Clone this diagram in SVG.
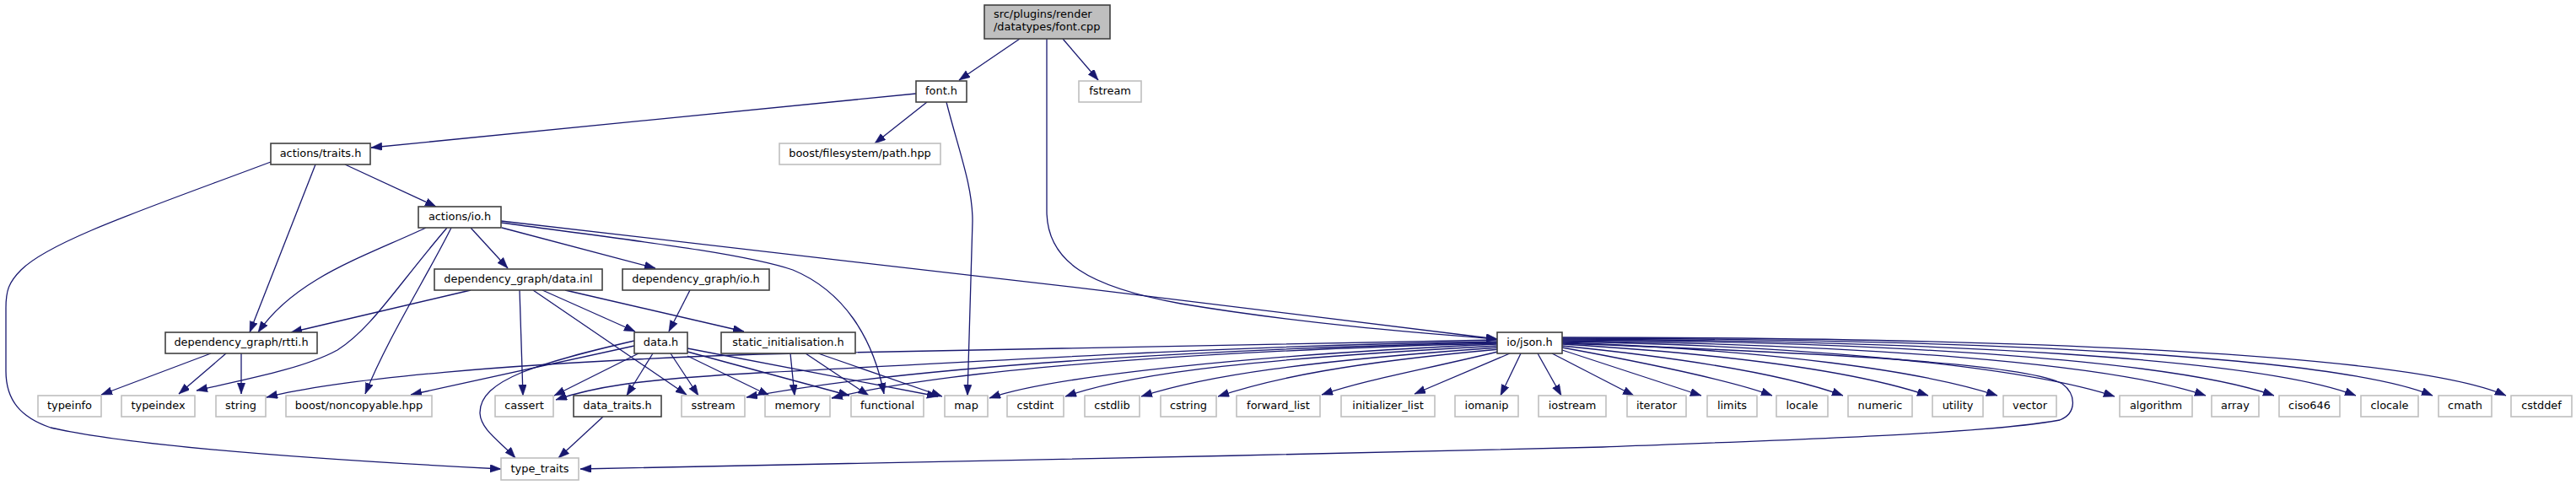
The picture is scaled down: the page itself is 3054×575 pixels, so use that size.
<svg xmlns="http://www.w3.org/2000/svg" width="3054" height="575" viewBox="0 0 3054 575">
<style>
text{font-family:"DejaVu Sans","Liberation Sans",sans-serif;font-size:12.9px;fill:#000;text-anchor:middle}
.d rect{fill:#fff;stroke:#404040;stroke-width:1.6}
.l rect{fill:#fff;stroke:#bfbfbf;stroke-width:1.6}
.r rect{fill:#bfbfbf;stroke:#404040;stroke-width:1.6}
#edges path{fill:none;stroke:#191970;stroke-width:1.3;marker-end:url(#ah)}
</style>
<defs>
<marker id="ah" markerUnits="userSpaceOnUse" markerWidth="14" markerHeight="10" refX="13" refY="4.7" orient="auto">
<path d="M0,0 L13,4.7 L0,9.4 z" fill="#191970" stroke="#191970" stroke-width="0.5"/>
</marker>
</defs>
<rect width="3054" height="575" fill="#fff"/>
<g id="edges">
<path d="M1209,46 L1137,95"/>
<path d="M1260,46 L1302,95"/>
<path d="M1241,46 L1241,250 C1241,310 1290,340 1400,360 C1550,385 1700,396 1775,402"/>
<path d="M1086,111 L440,175"/>
<path d="M1099,121 L1037,170"/>
<path d="M1122,121 C1137,180 1153,220 1153,262 L1147,469"/>
<path d="M409,195 L517,245"/>
<path d="M374,195 L296,394"/>
<path d="M321,192 C180,245 60,285 25,320 C10,335 7,345 7,365 L7,440 C7,475 25,495 60,507 C160,530 400,546 594,556"/>
<path d="M505,270 C430,305 350,330 306,394"/>
<path d="M530,270 C470,340 440,390 400,415 C360,437 290,450 233,463"/>
<path d="M535,270 C505,330 460,400 433,467"/>
<path d="M558,270 L602,318"/>
<path d="M595,270 L777,318"/>
<path d="M594,262 C900,295 1400,355 1775,402"/>
<path d="M594,264 C750,285 880,300 940,320 C1000,345 1035,400 1048,467"/>
<path d="M558,344 L345,394"/>
<path d="M616,344 L620,469"/>
<path d="M632,344 L814,468"/>
<path d="M643,344 L753,393"/>
<path d="M670,344 L882,393"/>
<path d="M818,344 L793,393"/>
<path d="M250,419 L120,468"/>
<path d="M268,419 L212,467"/>
<path d="M286,419 L286,467"/>
<path d="M752,410 L487,468"/>
<path d="M752,404 C640,430 568,450 569,490 C570,510 595,525 611,543"/>
<path d="M757,419 L657,469"/>
<path d="M774,419 L743,469"/>
<path d="M795,419 L828,469"/>
<path d="M815,422 L912,469"/>
<path d="M815,417 L1007,469"/>
<path d="M815,413 L1112,470"/>
<path d="M937,419 L942,469"/>
<path d="M955,419 L1030,469"/>
<path d="M970,419 L1117,470"/>
<path d="M715,494 L662,543"/>
<path d="M1775,403 C1500,406 1200,412 900,420 C600,430 400,450 316,471"/>
<path d="M1775,405 C1450,410 1200,427 900,442 C750,450 700,460 659,474"/>
<path d="M1775,406 C1500,412 1100,430 885,471"/>
<path d="M1775,407 C1500,414 1150,432 986,472"/>
<path d="M1775,408 C1500,420 1250,445 1173,472"/>
<path d="M1776,410 C1500,425 1350,440 1263,470"/>
<path d="M1777,412 C1550,428 1430,445 1353,470"/>
<path d="M1778,414 C1600,430 1510,448 1444,470"/>
<path d="M1780,416 C1680,440 1620,450 1567,468"/>
<path d="M1790,419 L1677,467"/>
<path d="M1803,419 L1779,469"/>
<path d="M1823,419 L1851,469"/>
<path d="M1840,419 L1937,469"/>
<path d="M1852,415 L2017,469"/>
<path d="M1852,412 C1950,430 2050,450 2101,469"/>
<path d="M1852,410 C2000,425 2120,445 2185,469"/>
<path d="M1852,408 C2050,420 2200,440 2286,469"/>
<path d="M1852,406 C2100,415 2280,440 2368,469"/>
<path d="M1852,405 C2150,410 2400,435 2507,470"/>
<path d="M1852,404 C2200,408 2500,430 2615,469"/>
<path d="M1852,403 C2250,405 2580,428 2696,469"/>
<path d="M1852,402 C2300,404 2680,425 2793,469"/>
<path d="M1852,401 C2350,402 2770,422 2884,469"/>
<path d="M1852,400 C2400,400 2860,420 2971,469"/>
<path d="M1852,407 C2150,418 2400,430 2445,455 C2462,468 2462,490 2442,498 C2350,515 2100,522 1900,530 C1500,540 1000,550 688,556"/>
</g>
<g id="n0" class="r"><rect x="1167" y="6" width="149" height="40"/><text x="1178" y="21" style="text-anchor:start">src/plugins/render</text><text x="1178" y="36" style="text-anchor:start">/datatypes/font.cpp</text></g>
<g id="n1" class="d"><rect x="1086" y="96" width="60" height="25"/><text x="1116" y="112">font.h</text></g>
<g id="n2" class="l"><rect x="1279" y="96" width="74" height="25"/><text x="1316" y="112">fstream</text></g>
<g id="n3" class="d"><rect x="321" y="170" width="118" height="25"/><text x="380" y="186">actions/traits.h</text></g>
<g id="n4" class="l"><rect x="924" y="170" width="191" height="25"/><text x="1019.5" y="186">boost/filesystem/path.hpp</text></g>
<g id="n5" class="d"><rect x="496" y="245" width="98" height="25"/><text x="545" y="261">actions/io.h</text></g>
<g id="n6" class="d"><rect x="515" y="319" width="199" height="25"/><text x="614.5" y="335">dependency_graph/data.inl</text></g>
<g id="n7" class="d"><rect x="738" y="319" width="174" height="25"/><text x="825" y="335">dependency_graph/io.h</text></g>
<g id="n8" class="d"><rect x="196" y="394" width="180" height="25"/><text x="286" y="410">dependency_graph/rtti.h</text></g>
<g id="n9" class="d"><rect x="752" y="394" width="63" height="25"/><text x="783.5" y="410">data.h</text></g>
<g id="n10" class="d"><rect x="855" y="394" width="159" height="25"/><text x="934.5" y="410">static_initialisation.h</text></g>
<g id="n11" class="d"><rect x="1775" y="394" width="77" height="25"/><text x="1813.5" y="410">io/json.h</text></g>
<g id="n12" class="l"><rect x="45" y="469" width="75" height="25"/><text x="82.5" y="485">typeinfo</text></g>
<g id="n13" class="l"><rect x="144" y="469" width="87" height="25"/><text x="187.5" y="485">typeindex</text></g>
<g id="n14" class="l"><rect x="256" y="469" width="59" height="25"/><text x="285.5" y="485">string</text></g>
<g id="n15" class="l"><rect x="339" y="469" width="173" height="25"/><text x="425.5" y="485">boost/noncopyable.hpp</text></g>
<g id="n16" class="l"><rect x="587" y="469" width="69" height="25"/><text x="621.5" y="485">cassert</text></g>
<g id="n17" class="d"><rect x="680" y="469" width="104" height="25"/><text x="732" y="485">data_traits.h</text></g>
<g id="n18" class="l"><rect x="808" y="469" width="75" height="25"/><text x="845.5" y="485">sstream</text></g>
<g id="n19" class="l"><rect x="907" y="469" width="77" height="25"/><text x="945.5" y="485">memory</text></g>
<g id="n20" class="l"><rect x="1009" y="469" width="86" height="25"/><text x="1052" y="485">functional</text></g>
<g id="n21" class="l"><rect x="1120" y="469" width="51" height="25"/><text x="1145.5" y="485">map</text></g>
<g id="n22" class="l"><rect x="1194" y="469" width="67" height="25"/><text x="1227.5" y="485">cstdint</text></g>
<g id="n23" class="l"><rect x="1286" y="469" width="65" height="25"/><text x="1318.5" y="485">cstdlib</text></g>
<g id="n24" class="l"><rect x="1376" y="469" width="66" height="25"/><text x="1409" y="485">cstring</text></g>
<g id="n25" class="l"><rect x="1466" y="469" width="99" height="25"/><text x="1515.5" y="485">forward_list</text></g>
<g id="n26" class="l"><rect x="1590" y="469" width="111" height="25"/><text x="1645.5" y="485">initializer_list</text></g>
<g id="n27" class="l"><rect x="1725" y="469" width="75" height="25"/><text x="1762.5" y="485">iomanip</text></g>
<g id="n28" class="l"><rect x="1824" y="469" width="80" height="25"/><text x="1864" y="485">iostream</text></g>
<g id="n29" class="l"><rect x="1929" y="469" width="70" height="25"/><text x="1964" y="485">iterator</text></g>
<g id="n30" class="l"><rect x="2024" y="469" width="59" height="25"/><text x="2053.5" y="485">limits</text></g>
<g id="n31" class="l"><rect x="2106" y="469" width="61" height="25"/><text x="2136.5" y="485">locale</text></g>
<g id="n32" class="l"><rect x="2191" y="469" width="76" height="25"/><text x="2229" y="485">numeric</text></g>
<g id="n33" class="l"><rect x="2291" y="469" width="60" height="25"/><text x="2321" y="485">utility</text></g>
<g id="n34" class="l"><rect x="2375" y="469" width="63" height="25"/><text x="2406.5" y="485">vector</text></g>
<g id="n35" class="l"><rect x="2513" y="469" width="86" height="25"/><text x="2556" y="485">algorithm</text></g>
<g id="n36" class="l"><rect x="2622" y="469" width="56" height="25"/><text x="2650" y="485">array</text></g>
<g id="n37" class="l"><rect x="2702" y="469" width="72" height="25"/><text x="2738" y="485">ciso646</text></g>
<g id="n38" class="l"><rect x="2799" y="469" width="68" height="25"/><text x="2833" y="485">clocale</text></g>
<g id="n39" class="l"><rect x="2891" y="469" width="63" height="25"/><text x="2922.5" y="485">cmath</text></g>
<g id="n40" class="l"><rect x="2977" y="469" width="72" height="25"/><text x="3013" y="485">cstddef</text></g>
<g id="n41" class="l"><rect x="594" y="543" width="92" height="26"/><text x="640" y="560">type_traits</text></g>
</svg>
